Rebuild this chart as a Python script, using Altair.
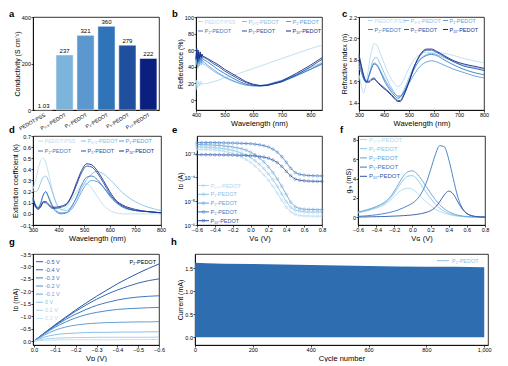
import altair as alt
import pandas as pd

FONT = "Liberation Sans"

# ---------------- data ----------------
names6 = ["PEDOT:PSS", "P₀.₅-PEDOT", "P₁-PEDOT", "P₂-PEDOT", "P₅-PEDOT", "P₁₀-PEDOT"]
names5 = names6[1:]
line_colors = ["#b9dcf1", "#8cc0e4", "#5c9fd6", "#3a7cc2", "#2652a6", "#1a2a8c"]
bar_colors = ["#a9d0ec", "#7db4dc", "#5a98cf", "#2f74b8", "#1f4f9d", "#0a1f7e"]
ef_colors = ["#b0d8f0", "#8cc3e7", "#5fa3d9", "#3b78c0", "#2f56a8"]

# a: conductivity
a_conductivity = [1.03, 237, 321, 360, 279, 222]
a_text = ["1.03", "237", "321", "360", "279", "222"]

# b: reflectance
b_wl = [400, 403, 406, 409, 412, 415, 418, 421, 425, 430, 440, 460, 480, 500, 525, 550, 575, 600, 625, 650, 700, 750, 800, 840]
b_refl = [
    [12, 24, 15, 22, 17, 23, 18, 21, 19, 20, 20, 22, 24, 27, 29, 32, 35, 38, 41, 44, 50, 56, 62, 66],
    [42, 52, 38, 50, 41, 48, 42, 46, 43, 43, 40, 35, 31, 27, 23, 20, 18, 17, 17.5, 19, 24, 31, 39, 45],
    [45, 56, 40, 54, 44, 51, 45, 49, 46, 45, 42, 37, 32, 28, 24, 20.5, 18, 17, 17, 18.5, 23, 30, 37, 43],
    [48, 60, 44, 57, 47, 55, 48, 52, 49, 48, 46, 41, 36, 32, 27, 22.5, 19, 17.5, 17, 18, 22, 29, 37, 44],
    [50, 62, 47, 60, 50, 58, 51, 55, 52, 51, 49, 44, 40, 35, 30, 25, 21, 18, 17, 17.5, 22, 30, 40, 49],
    [49, 60, 46, 58, 50, 57, 52, 55, 52, 52, 50, 46, 42, 37, 32, 27, 22, 19, 17.5, 18, 23, 32, 42, 51],
]

# c: refractive index
c_wl = [300, 310, 318, 330, 340, 350, 360, 370, 385, 400, 420, 440, 455, 465, 480, 500, 520, 545, 570, 590, 610, 640, 680, 720, 760, 800]
c_n = [
    [1.66, 1.55, 1.49, 1.60, 1.75, 1.88, 1.95, 1.94, 1.86, 1.77, 1.66, 1.58, 1.55, 1.56, 1.62, 1.72, 1.80, 1.85, 1.87, 1.87, 1.87, 1.86, 1.84, 1.81, 1.79, 1.77],
    [1.72, 1.68, 1.64, 1.60, 1.66, 1.75, 1.81, 1.82, 1.76, 1.68, 1.58, 1.50, 1.46, 1.46, 1.52, 1.63, 1.74, 1.81, 1.85, 1.86, 1.85, 1.82, 1.78, 1.75, 1.73, 1.71],
    [1.75, 1.68, 1.62, 1.59, 1.65, 1.72, 1.77, 1.76, 1.70, 1.63, 1.55, 1.49, 1.46, 1.46, 1.50, 1.58, 1.66, 1.74, 1.78, 1.79, 1.78, 1.75, 1.71, 1.68, 1.65, 1.63],
    [1.78, 1.70, 1.63, 1.59, 1.65, 1.72, 1.76, 1.75, 1.69, 1.61, 1.53, 1.47, 1.44, 1.45, 1.50, 1.60, 1.71, 1.80, 1.84, 1.85, 1.84, 1.80, 1.75, 1.71, 1.68, 1.66],
    [1.85, 1.74, 1.66, 1.60, 1.60, 1.62, 1.63, 1.60, 1.57, 1.54, 1.50, 1.45, 1.42, 1.42, 1.48, 1.60, 1.73, 1.84, 1.89, 1.89, 1.87, 1.83, 1.78, 1.74, 1.72, 1.70],
    [1.83, 1.73, 1.65, 1.59, 1.59, 1.61, 1.62, 1.60, 1.56, 1.53, 1.49, 1.44, 1.41, 1.41, 1.47, 1.59, 1.73, 1.85, 1.90, 1.90, 1.88, 1.84, 1.79, 1.76, 1.74, 1.72],
]

# d: extinction coefficient
d_wl = [300, 310, 320, 330, 340, 350, 360, 375, 390, 410, 430, 450, 470, 490, 510, 530, 550, 575, 600, 625, 650, 700, 750, 800]
d_k = [
    [0.22, 0.30, 0.40, 0.48, 0.50, 0.46, 0.37, 0.22, 0.10, 0.04, 0.06, 0.12, 0.20, 0.26, 0.27, 0.23, 0.16, 0.08, 0.03, 0.01, 0.00, 0.00, 0.00, 0.00],
    [0.21, 0.20, 0.22, 0.28, 0.33, 0.34, 0.30, 0.20, 0.10, 0.04, 0.03, 0.07, 0.14, 0.23, 0.31, 0.36, 0.38, 0.36, 0.31, 0.25, 0.19, 0.11, 0.06, 0.03],
    [0.13, 0.08, 0.06, 0.10, 0.17, 0.20, 0.16, 0.08, 0.03, 0.01, 0.01, 0.04, 0.11, 0.20, 0.27, 0.30, 0.29, 0.24, 0.17, 0.11, 0.07, 0.03, 0.02, 0.01],
    [0.15, 0.08, 0.05, 0.09, 0.17, 0.20, 0.15, 0.07, 0.02, 0.00, 0.01, 0.06, 0.15, 0.26, 0.33, 0.34, 0.31, 0.24, 0.16, 0.10, 0.06, 0.03, 0.02, 0.01],
    [0.12, 0.06, 0.04, 0.06, 0.10, 0.10, 0.08, 0.05, 0.05, 0.06, 0.08, 0.15, 0.26, 0.37, 0.43, 0.42, 0.37, 0.28, 0.18, 0.11, 0.07, 0.03, 0.02, 0.01],
    [0.14, 0.07, 0.05, 0.07, 0.11, 0.11, 0.09, 0.06, 0.06, 0.07, 0.09, 0.16, 0.28, 0.39, 0.45, 0.44, 0.39, 0.30, 0.20, 0.12, 0.08, 0.04, 0.02, 0.01],
]

# e/f: gate voltage grid
vg = [-0.6, -0.55, -0.5, -0.45, -0.4, -0.35, -0.3, -0.25, -0.2, -0.15, -0.1, -0.05, 0.0, 0.05, 0.1,
      0.15, 0.2, 0.25, 0.3, 0.35, 0.4, 0.45, 0.5, 0.55, 0.6, 0.65, 0.7, 0.75, 0.8]
e_id = [
    [1.5e-3, 1.5e-3, 1.48e-3, 1.45e-3, 1.41e-3, 1.35e-3, 1.26e-3, 1.15e-3, 1.0e-3, 8.5e-4, 7.1e-4, 5.6e-4, 4.3e-4, 3.0e-4, 2.0e-4,
     1.26e-4, 7.6e-5, 4.2e-5, 2.2e-5, 1.1e-5, 5.6e-6, 3.5e-6, 2.8e-6, 2.5e-6, 2.4e-6, 2.4e-6, 2.35e-6, 2.35e-6, 2.35e-6],
    [1.9e-3, 1.9e-3, 1.85e-3, 1.8e-3, 1.75e-3, 1.68e-3, 1.6e-3, 1.5e-3, 1.38e-3, 1.22e-3, 1.05e-3, 8.6e-4, 6.8e-4, 5.0e-4, 3.5e-4,
     2.3e-4, 1.4e-4, 8.0e-5, 4.2e-5, 2.0e-5, 9.5e-6, 5.5e-6, 4.2e-6, 3.8e-6, 3.6e-6, 3.5e-6, 3.5e-6, 3.5e-6, 3.5e-6],
    [2.4e-3, 2.4e-3, 2.35e-3, 2.3e-3, 2.25e-3, 2.2e-3, 2.1e-3, 2.0e-3, 1.9e-3, 1.75e-3, 1.6e-3, 1.4e-3, 1.15e-3, 9.0e-4, 6.5e-4,
     4.5e-4, 2.8e-4, 1.6e-4, 8.5e-5, 4.2e-5, 1.9e-5, 9.0e-6, 5.8e-6, 4.9e-6, 4.6e-6, 4.5e-6, 4.5e-6, 4.4e-6, 4.4e-6],
    [2.9e-3, 2.9e-3, 2.9e-3, 2.9e-3, 2.9e-3, 2.85e-3, 2.85e-3, 2.8e-3, 2.8e-3, 2.75e-3, 2.7e-3, 2.65e-3, 2.6e-3, 2.5e-3, 2.35e-3,
     2.15e-3, 1.9e-3, 1.55e-3, 1.15e-3, 7.5e-4, 4.3e-4, 2.4e-4, 1.6e-4, 1.35e-4, 1.25e-4, 1.2e-4, 1.18e-4, 1.16e-4, 1.15e-4],
    [9.0e-4, 9.0e-4, 9.0e-4, 9.0e-4, 8.9e-4, 8.9e-4, 8.8e-4, 8.8e-4, 8.7e-4, 8.6e-4, 8.5e-4, 8.4e-4, 8.2e-4, 8.0e-4, 7.6e-4,
     7.1e-4, 6.4e-4, 5.4e-4, 4.2e-4, 2.9e-4, 1.8e-4, 1.15e-4, 8.5e-5, 7.6e-5, 7.2e-5, 7.0e-5, 6.9e-5, 6.8e-5, 6.8e-5],
]
f_gm = [
    [0.45, 0.55, 0.65, 0.78, 0.92, 1.1, 1.35, 1.7, 2.15, 2.6, 2.9, 3.0, 2.9, 2.55, 2.05, 1.6, 1.2, 0.85, 0.6, 0.42, 0.28, 0.18, 0.11, 0.07, 0.04, 0.03, 0.02, 0.01, 0.01],
    [0.5, 0.6, 0.72, 0.86, 1.02, 1.22, 1.5, 1.9, 2.5, 3.2, 3.85, 4.25, 4.3, 3.95, 3.3, 2.6, 1.95, 1.4, 0.95, 0.62, 0.4, 0.25, 0.15, 0.09, 0.05, 0.03, 0.02, 0.01, 0.01],
    [0.55, 0.65, 0.78, 0.92, 1.1, 1.32, 1.6, 2.05, 2.7, 3.5, 4.25, 4.7, 4.8, 4.5, 3.9, 3.2, 2.5, 1.85, 1.3, 0.88, 0.58, 0.36, 0.22, 0.13, 0.07, 0.04, 0.03, 0.02, 0.01],
    [0.1, 0.12, 0.15, 0.2, 0.25, 0.32, 0.4, 0.5, 0.62, 0.78, 0.98, 1.2, 1.45, 1.85, 2.5, 3.5, 4.9, 6.4, 7.4, 7.3, 6.0, 4.0, 2.1, 0.95, 0.4, 0.18, 0.08, 0.04, 0.02],
    [0.02, 0.03, 0.04, 0.05, 0.06, 0.07, 0.08, 0.1, 0.12, 0.14, 0.17, 0.2, 0.24, 0.3, 0.38, 0.5, 0.68, 1.0, 1.6, 2.3, 2.7, 2.4, 1.6, 0.85, 0.38, 0.16, 0.07, 0.03, 0.02],
]

# g: output curves
g_vd = [0.0, -0.05, -0.1, -0.15, -0.2, -0.25, -0.3, -0.35, -0.4, -0.45, -0.5, -0.55, -0.6]
g_names = ["-0.5 V", "-0.4 V", "-0.3 V", "-0.2 V", "-0.1 V", "0 V", "0.1 V", "0.2 V"]
g_colors = ["#2a5ba8", "#3468b3", "#3f78be", "#4f8cc9", "#66a3d6", "#8cc0e6", "#a9d2ef", "#c3e1f4"]
g_id = [
    [0, -0.33, -0.65, -0.95, -1.25, -1.53, -1.8, -2.05, -2.3, -2.52, -2.73, -2.92, -3.1],
    [0, -0.32, -0.63, -0.92, -1.2, -1.45, -1.68, -1.88, -2.05, -2.2, -2.33, -2.43, -2.5],
    [0, -0.31, -0.6, -0.86, -1.08, -1.27, -1.43, -1.55, -1.65, -1.72, -1.77, -1.8, -1.82],
    [0, -0.29, -0.55, -0.76, -0.93, -1.06, -1.15, -1.22, -1.27, -1.3, -1.32, -1.34, -1.35],
    [0, -0.24, -0.43, -0.56, -0.64, -0.69, -0.72, -0.74, -0.75, -0.76, -0.77, -0.77, -0.78],
    [0, -0.16, -0.25, -0.3, -0.32, -0.34, -0.35, -0.35, -0.36, -0.36, -0.36, -0.37, -0.37],
    [0, -0.08, -0.11, -0.13, -0.14, -0.14, -0.15, -0.15, -0.15, -0.15, -0.15, -0.15, -0.16],
    [0, -0.03, -0.04, -0.05, -0.05, -0.05, -0.05, -0.05, -0.05, -0.06, -0.06, -0.06, -0.06],
]

# h: cycling stability (envelope of switching current)
h_cycle = [0, 40, 100, 200, 300, 400, 500, 600, 700, 800, 900, 1000]
h_on = [1.62, 1.61, 1.60, 1.59, 1.58, 1.57, 1.56, 1.55, 1.54, 1.53, 1.53, 1.52]
h_off = [0.0] * len(h_cycle)


# ---------------- helpers ----------------
def long_df(xs, series_vals, names, colors):
    rows = []
    for k, (name, vals) in enumerate(zip(names, series_vals)):
        for i, (x, y) in enumerate(zip(xs, vals)):
            rows.append({"x": x, "y": y, "s": name, "i": i, "col": colors[k]})
    return pd.DataFrame(rows)


COL = alt.Color("col:N", scale=None, legend=None)


def panel_label(letter, x, y):
    return alt.Chart(pd.DataFrame({"t": [letter]})).mark_text(
        fontSize=9.5, fontWeight="bold", align="left", baseline="alphabetic", color="black"
    ).encode(text="t:N", x=alt.value(x), y=alt.value(y))


def legend_item(name, color, x, y, sym=5, gap=1.5, fs=5.5, marker=False):
    d = pd.DataFrame({"t": [name]})
    layers = [
        alt.Chart(d).mark_rule(color=color, strokeWidth=1).encode(
            x=alt.value(x), x2=alt.value(x + sym), y=alt.value(y)),
        alt.Chart(d).mark_text(color=color, fontSize=fs, align="left", baseline="middle").encode(
            text="t:N", x=alt.value(x + sym + gap), y=alt.value(y)),
    ]
    if marker:
        layers.append(alt.Chart(d).mark_point(color=color, shape="circle", filled=False, size=8,
                                              strokeWidth=0.7).encode(
            x=alt.value(x + sym / 2), y=alt.value(y)))
    return layers


def grid_legend(names, colors, xcols, yrows, **kw):
    out = []
    for i, (n, c) in enumerate(zip(names, colors)):
        out += legend_item(n, c, xcols[i % 3], yrows[i // 3], **kw)
    return out


def xaxis(title, values, fmt=None):
    d = dict(title=title, values=values, labelFlush=False, titleFontSize=7.5)
    if fmt:
        d["format"] = fmt
    return alt.Axis(**d)


def yaxis(title, values, fmt=None, **kw):
    d = dict(title=title, values=values, titleFontSize=7)
    if fmt:
        d["format"] = fmt
    d.update(kw)
    return alt.Axis(**d)


# ---------------- panel a ----------------
a_df = pd.DataFrame({"s": names6, "v": a_conductivity, "t": a_text, "col": bar_colors})
a_x = alt.X("s:N", sort=names6, scale=alt.Scale(paddingInner=0.18, paddingOuter=0.1),
            axis=alt.Axis(title=None, labelAngle=-30, labelAlign="right", labelBaseline="top",
                          labelFontSize=5.2, ticks=False, labelPadding=2))
a_y = alt.Y("v:Q", scale=alt.Scale(domain=[0, 400]),
            axis=yaxis("Conductivity (S cm⁻¹)", [0, 100, 200, 300, 400]))
a_bars = alt.Chart(a_df).mark_bar(stroke="white", strokeWidth=0.5).encode(x=a_x, y=a_y, color=COL)
a_txt = alt.Chart(a_df).mark_text(fontSize=6, baseline="bottom", dy=-1, color="black").encode(
    x=alt.X("s:N", sort=names6), y="v:Q", text="t:N")
panel_a = alt.layer(a_bars, a_txt, panel_label("a", -24, 0)).properties(width=126, height=93)

# ---------------- panel b ----------------
b_df = long_df(b_wl, b_refl, names6, line_colors)
b_line = alt.Chart(b_df).mark_line(strokeWidth=0.9).encode(
    x=alt.X("x:Q", scale=alt.Scale(domain=[400, 840]), axis=xaxis("Wavelength (nm)", [400, 500, 600, 700, 800])),
    y=alt.Y("y:Q", scale=alt.Scale(domain=[-12, 100]), axis=yaxis("Reflectance (%)", [0, 20, 40, 60, 80, 100])),
    color=COL, detail="s:N", order="i:Q")
panel_b = alt.layer(b_line, *grid_legend(names6, line_colors, [2, 46, 90], [4.5, 14]),
                    panel_label("b", -24, 0)).properties(width=126, height=93)

# ---------------- panel c ----------------
c_df = long_df(c_wl, c_n, names6, line_colors)
c_line = alt.Chart(c_df).mark_line(strokeWidth=0.9, interpolate="monotone").encode(
    x=alt.X("x:Q", scale=alt.Scale(domain=[300, 800]), axis=xaxis("Wavelength (nm)", [300, 400, 500, 600, 700, 800])),
    y=alt.Y("y:Q", scale=alt.Scale(domain=[1.33, 2.2]),
            axis=yaxis("Refractive index (n)", [1.4, 1.6, 1.8, 2.0, 2.2], ".1f")),
    color=COL, detail="s:N", order="i:Q")
panel_c = alt.layer(c_line, *grid_legend(names6, line_colors, [9, 45, 84], [3.5, 12.5]),
                    panel_label("c", -17, 0)).properties(width=125, height=93)

# ---------------- panel d ----------------
d_df = long_df(d_wl, d_k, names6, line_colors)
d_line = alt.Chart(d_df).mark_line(strokeWidth=0.9, interpolate="monotone").encode(
    x=alt.X("x:Q", scale=alt.Scale(domain=[300, 800]), axis=xaxis("Wavelength (nm)", [300, 400, 500, 600, 700, 800])),
    y=alt.Y("y:Q", scale=alt.Scale(domain=[-0.1, 0.7]),
            axis=yaxis("Extinction coefficient (k)", [-0.1, 0, 0.1, 0.2, 0.3, 0.4, 0.5, 0.6, 0.7], ".1f")),
    color=COL, detail="s:N", order="i:Q")
panel_d = alt.layer(d_line, *grid_legend(names6, line_colors, [5, 48, 86], [5, 15]),
                    panel_label("d", -24, -3)).properties(width=128, height=89)

# ---------------- panel e ----------------
e_df = long_df(vg, e_id, names5, ef_colors)
e_x = alt.X("x:Q", scale=alt.Scale(domain=[-0.6, 0.8]),
            axis=xaxis("Vɢ (V)", [-0.6, -0.4, -0.2, 0, 0.2, 0.4, 0.6, 0.8], ".1f"))
e_y = alt.Y("y:Q", scale=alt.Scale(type="log", domain=[1e-6, 5.5e-3]),
            axis=yaxis("Iᴅ (A)", [1e-6, 1e-5, 1e-4, 1e-3],
                       labelExpr="datum.value < 2e-6 ? '10⁻⁶' : datum.value < 2e-5 ? '10⁻⁵' : datum.value < 2e-4 ? '10⁻⁴' : '10⁻³'"))
e_line = alt.Chart(e_df).mark_line(strokeWidth=0.8).encode(x=e_x, y=e_y, color=COL, detail="s:N", order="i:Q")
e_pts = alt.Chart(e_df).mark_point(shape="circle", filled=False, size=7, strokeWidth=0.6).encode(x=e_x, y=e_y, color=COL)
e_leg = []
for i, (n, c) in enumerate(zip(names5, ef_colors)):
    e_leg += legend_item(n, c, 1, 49.5 + 8.8 * i, sym=11, gap=1.5, fs=5.5, marker=True)
panel_e = alt.layer(e_line, e_pts, *e_leg, panel_label("e", -25, -3)).properties(width=125, height=89)

# ---------------- panel f ----------------
f_df = long_df(vg, f_gm, names5, ef_colors)
f_line = alt.Chart(f_df).mark_line(strokeWidth=0.9, interpolate="monotone").encode(
    x=alt.X("x:Q", scale=alt.Scale(domain=[-0.6, 0.8]),
            axis=xaxis("Vɢ (V)", [-0.6, -0.4, -0.2, 0, 0.2, 0.4, 0.6, 0.8], ".1f")),
    y=alt.Y("y:Q", scale=alt.Scale(domain=[-0.8, 8.4]), axis=yaxis("gₘ (mS)", [0, 2, 4, 6, 8])),
    color=COL, detail="s:N", order="i:Q")
f_leg = []
for i, (n, c) in enumerate(zip(names5, ef_colors)):
    f_leg += legend_item(n, c, 2, 3.5 + 9.2 * i, sym=7, gap=2, fs=6)
panel_f = alt.layer(f_line, *f_leg, panel_label("f", -18, -3)).properties(width=127, height=89)

# ---------------- panel g ----------------
g_df = long_df(g_vd, g_id, g_names, g_colors)
g_line = alt.Chart(g_df).mark_line(strokeWidth=1.0, interpolate="monotone").encode(
    x=alt.X("x:Q", scale=alt.Scale(domain=[-0.6, 0.005], reverse=True),
            axis=xaxis("Vᴅ (V)", [0, -0.1, -0.2, -0.3, -0.4, -0.5, -0.6], ".1f")),
    y=alt.Y("y:Q", scale=alt.Scale(domain=[-3.5, 0.16], reverse=True),
            axis=yaxis("Iᴅ (mA)", [-3.5, -3, -2.5, -2, -1.5, -1, -0.5, 0], ".1f")),
    color=COL, detail="s:N", order="i:Q")
g_leg = []
for i, (n, c) in enumerate(zip(g_names, g_colors)):
    g_leg += legend_item(n, c, 3, 7.7 + 8.1 * i, sym=7, gap=2, fs=5.5)
g_tag = alt.Chart(pd.DataFrame({"t": ["P₂-PEDOT"]})).mark_text(fontSize=5.5, align="right", baseline="middle", color="black").encode(
    text="t:N", x=alt.value(123), y=alt.value(7.7))
panel_g = alt.layer(g_line, *g_leg, g_tag, panel_label("g", -24, -9)).properties(width=126, height=91)

# ---------------- panel h ----------------
h_df = pd.DataFrame({"c": h_cycle, "on": h_on, "off": h_off})
h_area = alt.Chart(h_df).mark_area(color="#2e6db0", opacity=1).encode(
    x=alt.X("c:Q", scale=alt.Scale(domain=[0, 1013]),
            axis=xaxis("Cycle number", [0, 200, 400, 600, 800, 1000])),
    y=alt.Y("on:Q", scale=alt.Scale(domain=[-0.17, 1.81]),
            axis=yaxis("Current (mA)", [0, 0.5, 1.0, 1.5], ".1f")),
    y2="off:Q")
h_leg = legend_item("P₂-PEDOT", "#8cc0e4", 242, 6.7, sym=12, gap=3, fs=5.5)
panel_h = alt.layer(h_area, *h_leg, panel_label("h", -24, -9)).properties(width=293, height=91)

# ---------------- assemble ----------------
row1 = alt.hconcat(panel_a, panel_b, panel_c, spacing=37, bounds="flush")
row2 = alt.hconcat(panel_d, panel_e, panel_f, spacing=36, bounds="flush")
row3 = alt.hconcat(panel_g, panel_h, spacing=36, bounds="flush")

top2 = alt.vconcat(row1, row2, spacing=-8)
chart = alt.vconcat(top2, row3, spacing=-6).properties(
    padding={"left": 0, "top": 0, "right": 0, "bottom": 0}
).configure(font=FONT).configure_view(
    stroke="black", strokeWidth=0.8
).configure_axis(
    labelFontSize=5.5, titleFontSize=7.5, titleFontWeight="normal", tickSize=2, labelPadding=0.5,
    titlePadding=1, grid=False, domainColor="black", tickColor="black", labelColor="black",
    titleColor="black", domainWidth=0.8, tickWidth=0.7, labelFont=FONT, titleFont=FONT
)

chart.save("out.html", embed_options={"renderer": "svg", "actions": False})
